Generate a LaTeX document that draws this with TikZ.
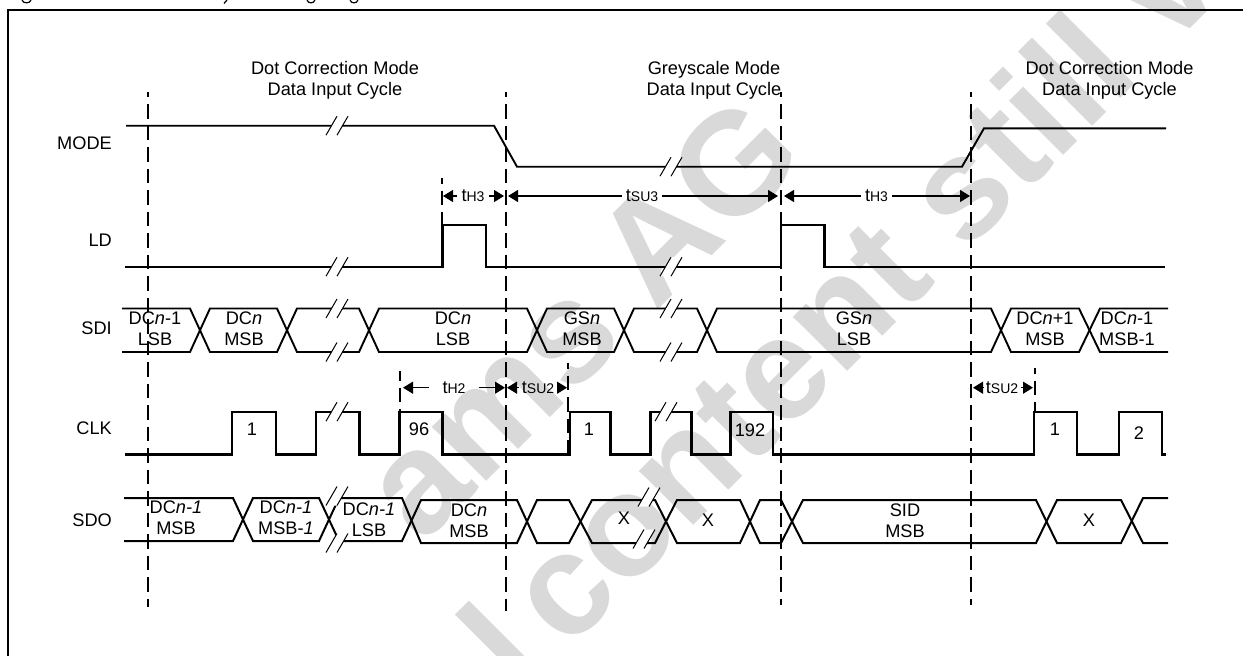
\documentclass[tikz,border=0pt]{standalone}
\usepackage{fontspec}
\setmainfont{Liberation Sans}
\usetikzlibrary{arrows.meta}
\definecolor{wm}{gray}{0.85}
\tikzset{
 wave/.style={line width=#1,line join=miter,miter limit=10},
 wave/.default=2pt,
 guide/.style={line width=1.7pt,dash pattern=on 14.5pt off 7pt,dash phase=9.5pt},
 subguide/.style={line width=1.7pt,dash pattern=on 14.5pt off 7pt},
 brk/.style={line width=1pt},
 dimarrow/.style={line width=1.2pt,-{Triangle[length=10pt,width=12pt]},shorten >=0pt},
 lab/.style={font=\fontsize{18.2}{21}\selectfont,align=center,inner sep=0pt,text depth=0pt},
 sig/.style={font=\fontsize{18.2}{21}\selectfont,anchor=east,inner sep=0pt},
 timing/.style={font=\fontsize{18.2}{20}\selectfont,inner xsep=4pt,inner ysep=0pt},
 wmark/.style={font=\fontsize{145}{145}\bfseries\selectfont,text=wm,rotate=45,inner sep=0pt,anchor=base west}
}
\newcommand{\tname}[1]{t{\fontsize{14}{14}\selectfont #1}}
\newcommand{\dcn}{DC\textit{n}}
\newcommand{\brkmark}[2]{%
 \fill[white] (#1-11,#2+9.5)--(#1,#2-9.5)--(#1+11,#2-9.5)--(#1,#2+9.5)--cycle;
 \draw[brk] (#1-11,#2+9.5)--(#1,#2-9.5) (#1,#2+9.5)--(#1+11,#2-9.5);}
\begin{document}
\begin{tikzpicture}[x=1pt,y=-1pt]
\useasboundingbox (0,0) rectangle (1243,656);
\clip (0,0) rectangle (1243,656);
% watermark
\node[wmark] (wm1) at (422,546) {ams AG};
\node[wmark] (wm2a) at (522,697) {l};
\node[wmark] (wm2b) at (567,652) {content still v};
% descenders of the cropped caption line
\draw[line width=1.2pt] (22,0) .. controls (23,3.8) and (30,3.8) .. (31,0)
  (227,0) -- (224,3.5)
  (307,0) .. controls (308,3.8) and (314,3.8) .. (315,0)
  (350,0) .. controls (351,3.8) and (357,3.8) .. (358,0);
% frame
\draw[line width=2pt] (1243,10)--(8,10)--(8,656);
% signal names
\node[sig] (mode) at (112,143) {MODE};
\node[sig] (ld) at (112,240) {LD};
\node[sig] (sdi) at (112,328) {SDI};
\node[sig] (clk) at (112,428) {CLK};
\node[sig] (sdo) at (112,520) {SDO};
% headings
\node[lab] (h1) at (335,78) {Dot Correction Mode\\Data Input Cycle};
\node[lab] (h2) at (714,78) {Greyscale Mode\\Data Input Cycle};
\node[lab] (h3) at (1109.5,78) {Dot Correction Mode\\Data Input Cycle};
% guides
\draw[guide] (148,92)--(148,607);
\draw[guide] (506,92)--(506,611);
\draw[guide] (781,92)--(781,605);
\draw[guide] (971,92)--(971,605);
\draw[subguide,dash phase=9pt] (442,178)--(442,224);
\draw[subguide,dash phase=5pt] (400,371)--(400,412);
\draw[subguide,dash phase=9pt] (568,363)--(568,457);
\draw[subguide,dash phase=9pt] (1035,368)--(1035,411);
% MODE
\draw[wave=1.9pt] (126,125.7)--(494,125.7)--(517,166.7)--(962,166.7)--(984,128.3)--(1166,128.3);
\brkmark{337}{125.7}
\brkmark{671}{166.7}
% LD
\draw[wave=2.4pt] (125,266.7)--(442.3,266.7)--(442.3,225)--(485.7,225)--(485.7,266.7)--(781,266.7)--(781,225)--(824.3,225)--(824.3,266.7)--(1165,266.7);
\brkmark{337}{266.7}
\brkmark{671}{266.7}
% SDI
\draw[wave=1.9pt] (122,308.5)--(190,308.5)--(210,352)--(277,352)--(297,308.5)--(359,308.5)--(379,352)--(527,352)--(547,308.5)--(614,308.5)--(634,352)--(697,352)--(717,308.5)--(991,308.5)--(1011,352)--(1079,352)--(1100,308.5)--(1168,308.5);
\draw[wave=1.9pt] (122,352)--(190,352)--(210,308.5)--(277,308.5)--(297,352)--(359,352)--(379,308.5)--(527,308.5)--(547,352)--(614,352)--(634,308.5)--(697,308.5)--(717,352)--(991,352)--(1011,308.5)--(1079,308.5)--(1100,352)--(1168,352);
\brkmark{337}{308.5}
\brkmark{337}{352}
\brkmark{671}{308.5}
\brkmark{671}{352}
% CLK
\draw[wave=2.2pt] (125,454.5)--(232,454.5)--(232,411.7)--(276,411.7)--(276,454.5)--(316,454.5)--(316,411.7)--(359.5,411.7)--(359.5,454.5)--(399.5,454.5)--(399.5,411.7)--(442.5,411.7)--(442.5,454.5)--(570,454.5)--(570,411.7)--(610.5,411.7)--(610.5,454.5)--(650.5,454.5)--(650.5,411.7)--(691.5,411.7)--(691.5,454.5)--(730.5,454.5)--(730.5,411.7)--(773,411.7)--(773,454.5)--(1034,454.5)--(1034,411.7)--(1077,411.7)--(1077,454.5)--(1119,454.5)--(1119,411.7)--(1162,411.7)--(1162,454.5)--(1166,454.5);
\brkmark{337}{411.7}
\brkmark{666}{411.7}
% SDO
\draw[wave=2pt] (124,498)--(233,498)--(253,541)--(319,541)--(339,498)--(402,498)--(421,543)--(517,543)--(537,500)--(569,500)--(592,543)--(655,543)--(677,500)--(740,500)--(760,543)--(781,543)--(803,500)--(1036,500)--(1057,543)--(1121,543)--(1143,498)--(1168,498);
\draw[wave=2pt] (124,541)--(233,541)--(253,498)--(319,498)--(339,541)--(402,541)--(421,500)--(517,500)--(537,543)--(569,543)--(592,500)--(655,500)--(677,543)--(740,543)--(760,500)--(781,500)--(803,543)--(1036,543)--(1057,500)--(1121,500)--(1143,543)--(1168,543);
\brkmark{337}{496}
\brkmark{337}{543}
\brkmark{649}{497}
\brkmark{644}{539}
% bus labels
\node[lab] (a1) at (155,328.5) {\dcn-1\\LSB};
\node[lab] (a2) at (244,328.5) {\dcn\\MSB};
\node[lab] (a3) at (453,328.5) {\dcn\\LSB};
\node[lab] (a4) at (582,328.5) {GS\textit{n}\\MSB};
\node[lab] (a5) at (854,328.5) {GS\textit{n}\\LSB};
\node[lab] (a6) at (1045,328.5) {\dcn+1\\MSB};
\node[lab] (a7) at (1127,328.5) {\dcn-1\\MSB-1};
\node[lab] (b1) at (176,517.5) {DC\textit{n-1}\\MSB};
\node[lab] (b2) at (286,517.5) {DC\textit{n-1}\\MSB-\textit{1}};
\node[lab] (b3) at (369,519.5) {DC\textit{n-1}\\LSB};
\node[lab] (b4) at (469,520.5) {\dcn\\MSB};
\node[lab] (b5) at (624,518) {X};
\node[lab] (b6) at (708,520) {X};
\node[lab] (b7) at (905,521) {SID\\MSB};
\node[lab] (b8) at (1089,520) {X};
% clock numbers
\node[lab] (c1) at (252,429) {1};
\node[lab] (c2) at (419,429) {96};
\node[lab] (c3) at (589,429) {1};
\node[lab] (c4) at (750,430) {192};
\node[lab] (c5) at (1055,429) {1};
\node[lab] (c6) at (1139,433) {2};
% timings, row 1
\node[timing] (th3a) at (473,196) {\tname{H3}};
\node[timing] (tsu3) at (642,196) {\tname{SU3}};
\node[timing] (th3b) at (876.5,196) {\tname{H3}};
\coordinate (p1) at (443,196);
\coordinate (p2) at (504,196);
\coordinate (p3) at (508,196);
\coordinate (p4) at (778,196);
\coordinate (p5) at (784,196);
\coordinate (p6) at (970,196);
\draw[dimarrow] (th3a) -- (p1);
\draw[dimarrow] (th3a) -- (p2);
\draw[dimarrow] (tsu3) -- (p3);
\draw[dimarrow] (tsu3) -- (p4);
\draw[dimarrow] (th3b) -- (p5);
\draw[dimarrow] (th3b) -- (p6);
% timings, row 2
\node[timing,inner xsep=13pt] (th2) at (454,387.7) {\tname{H2}};
\node[timing,inner xsep=3pt] (tsu2a) at (538,387.7) {\tname{SU2}};
\node[timing,inner xsep=3pt] (tsu2b) at (1002,387.7) {\tname{SU2}};
\coordinate (q1) at (403,387.7);
\coordinate (q2) at (505,387.7);
\coordinate (q3) at (507,387.7);
\coordinate (q4) at (567,387.7);
\coordinate (q5) at (973,387.7);
\coordinate (q6) at (1033,387.7);
\draw[dimarrow] (th2) -- (q1);
\draw[dimarrow] (th2) -- (q2);
\draw[dimarrow] (tsu2a) -- (q3);
\draw[dimarrow] (tsu2a) -- (q4);
\draw[dimarrow] (tsu2b) -- (q5);
\draw[dimarrow] (tsu2b) -- (q6);
\end{tikzpicture}
\end{document}
